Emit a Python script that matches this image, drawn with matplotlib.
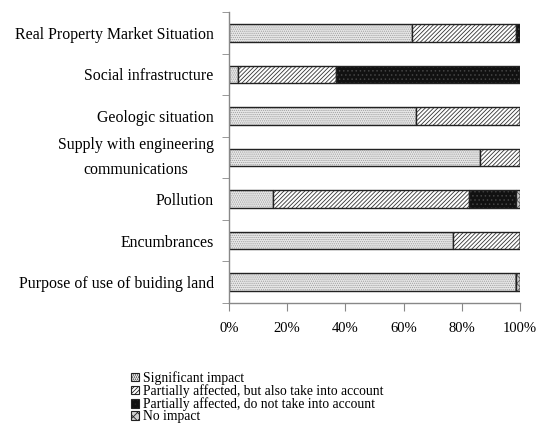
import matplotlib
matplotlib.use("Agg")
import matplotlib.pyplot as plt
import numpy as np

categories = ["Real Property Market Situation", "Social infrastructure",
              "Geologic situation", "Supply with engineering\ncommunications",
              "Pollution", "Encumbrances", "Purpose of use of buiding land"]
significant = [63.0, 3.2, 64.3, 86.3, 15.0, 77.1, 98.7]
partial_also = [35.6, 33.6, 35.7, 13.7, 67.6, 22.9, 0.0]
partial_not = [1.4, 63.2, 0.0, 0.0, 16.0, 0.0, 0.0]
no_impact = [0.0, 0.0, 0.0, 0.0, 1.4, 0.0, 1.3]
series_names = ["Significant impact", "Partially affected, but also take into account",
                "Partially affected, do not take into account", "No impact"]
xticks = [0, 20, 40, 60, 80, 100]
xticklabels = ["0%", "20%", "40%", "60%", "80%", "100%"]

plt.rcParams['font.family'] = ['Liberation Serif', 'DejaVu Serif']
plt.rcParams['hatch.linewidth'] = 0.6

fig = plt.figure(figsize=(5.43, 4.33), dpi=100)
ax = fig.add_axes([229/543, 1-303/433, (520-229)/543, (303-12)/433])

y = np.arange(len(categories))
styles = [
    dict(facecolor="#e8e8e8", hatch="........", edgecolor="#a0a0a0"),
    dict(facecolor="white", hatch="////////", edgecolor="#333333"),
    dict(facecolor="#111111", hatch="....", edgecolor="#444444"),
    dict(facecolor="#d0d0d0", hatch="xxxx", edgecolor="#555555"),
]
left = np.zeros(len(categories))
handles = []
for vals, name, st in zip([significant, partial_also, partial_not, no_impact], series_names, styles):
    vals = np.array(vals)
    b = ax.barh(y, vals, left=left, height=0.42, label=name,
                facecolor=st["facecolor"], hatch=st["hatch"], edgecolor=st["edgecolor"], linewidth=0)
    ax.barh(y, vals, left=left, height=0.42, facecolor="none", edgecolor="#222222", linewidth=1.0)
    handles.append(b)
    left += vals

ax.set_xlim(0, 100)
ax.set_ylim(len(categories) - 0.5, -0.5)
ax.set_xticks(xticks)
ax.set_xticklabels(xticklabels, fontsize=10.5)
ax.set_yticks(y)
ax.set_yticklabels(categories, fontsize=11.4)
for lab in ax.get_yticklabels():
    lab.set_multialignment('center')
    if "\n" in lab.get_text():
        lab.set_linespacing(1.75)
        lab.set_verticalalignment('center')
ax.set_yticks(np.arange(-0.5, len(categories), 1.0), minor=True)
ax.tick_params(axis='y', which='major', length=0, pad=11)
ax.tick_params(axis='y', which='minor', length=5, direction='out', color="#888888")
ax.tick_params(axis='x', length=6, direction='out', color="#888888", pad=8)
for s in ["top", "right"]:
    ax.spines[s].set_visible(False)
for s in ["left", "bottom"]:
    ax.spines[s].set_color("#888888")
    ax.spines[s].set_linewidth(1.0)

leg = fig.legend(handles=handles, labels=series_names, loc="upper left",
                 bbox_to_anchor=(131/543, 1-371/433), frameon=False, fontsize=9.8,
                 handlelength=0.6, handleheight=0.6, handletextpad=0.3,
                 labelspacing=-0.05, borderpad=0, borderaxespad=0)
for p in leg.get_patches():
    p.set_edgecolor("#222222")
    p.set_linewidth(0.8)

fig.savefig("out.png", dpi=100)
